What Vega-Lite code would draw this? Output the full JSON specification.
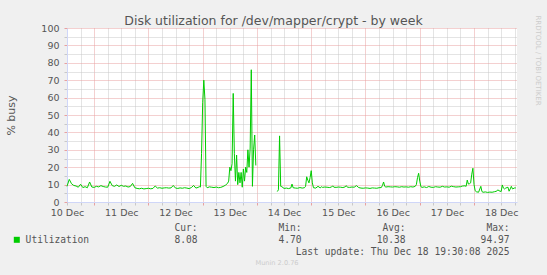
{
"$schema": "https://vega.github.io/schema/vega-lite/v6.json",
"width": 450, "height": 174,
"autosize": {"type": "none"},
"padding": {"left": 67, "top": 28, "right": 30, "bottom": 73},
"background": "#f0f0f0",
"title": {"text": "Munin 2.0.76", "orient": "bottom", "anchor": "middle", "frame": "group", "dx": -15, "offset": 9, "baseline": "alphabetic", "fontSize": 6.6, "font": "DejaVu Sans", "fontWeight": "normal", "color": "#cccccc"},
"config": {"view": {"fill": "#ffffff", "stroke": null}, "font": "DejaVu Sans"},
"data": {"values": [
{"t":"2025-12-10T12:00Z","v":9.0},{"t":"2025-12-10T13:00Z","v":13.0},{"t":"2025-12-10T14:00Z","v":10.5},{"t":"2025-12-10T15:00Z","v":9.5},{"t":"2025-12-10T16:00Z","v":9.2},{"t":"2025-12-10T17:00Z","v":8.5},{"t":"2025-12-10T18:00Z","v":10.2},{"t":"2025-12-10T19:00Z","v":8.3},{"t":"2025-12-10T20:00Z","v":8.8},{"t":"2025-12-10T21:00Z","v":8.2},{"t":"2025-12-10T22:00Z","v":11.5},{"t":"2025-12-10T23:00Z","v":8.6},
{"t":"2025-12-11T00:00Z","v":8.4},{"t":"2025-12-11T01:00Z","v":9.0},{"t":"2025-12-11T02:00Z","v":8.7},{"t":"2025-12-11T03:00Z","v":9.4},{"t":"2025-12-11T04:00Z","v":8.9},{"t":"2025-12-11T05:00Z","v":8.6},{"t":"2025-12-11T06:00Z","v":8.5},{"t":"2025-12-11T07:00Z","v":11.9},{"t":"2025-12-11T08:00Z","v":9.4},{"t":"2025-12-11T09:00Z","v":9.0},{"t":"2025-12-11T10:00Z","v":9.8},{"t":"2025-12-11T11:00Z","v":8.9},{"t":"2025-12-11T12:00Z","v":9.6},{"t":"2025-12-11T13:00Z","v":9.0},{"t":"2025-12-11T14:00Z","v":9.2},{"t":"2025-12-11T15:00Z","v":8.6},{"t":"2025-12-11T16:00Z","v":8.9},{"t":"2025-12-11T17:00Z","v":10.7},{"t":"2025-12-11T18:00Z","v":8.2},{"t":"2025-12-11T19:00Z","v":7.8},{"t":"2025-12-11T20:00Z","v":7.6},{"t":"2025-12-11T21:00Z","v":7.9},{"t":"2025-12-11T22:00Z","v":7.5},{"t":"2025-12-11T23:00Z","v":7.7},
{"t":"2025-12-12T00:00Z","v":7.9},{"t":"2025-12-12T01:00Z","v":7.6},{"t":"2025-12-12T02:00Z","v":7.8},{"t":"2025-12-12T03:00Z","v":9.2},{"t":"2025-12-12T04:00Z","v":8.0},{"t":"2025-12-12T05:00Z","v":8.2},{"t":"2025-12-12T06:00Z","v":7.9},{"t":"2025-12-12T07:00Z","v":8.1},{"t":"2025-12-12T08:00Z","v":8.2},{"t":"2025-12-12T09:00Z","v":8.0},{"t":"2025-12-12T10:00Z","v":8.1},{"t":"2025-12-12T11:00Z","v":9.5},{"t":"2025-12-12T12:00Z","v":8.0},{"t":"2025-12-12T13:00Z","v":7.8},{"t":"2025-12-12T14:00Z","v":8.1},{"t":"2025-12-12T15:00Z","v":7.9},{"t":"2025-12-12T16:00Z","v":8.2},{"t":"2025-12-12T17:00Z","v":8.0},{"t":"2025-12-12T18:00Z","v":7.7},{"t":"2025-12-12T19:00Z","v":8.3},{"t":"2025-12-12T20:00Z","v":9.5},{"t":"2025-12-12T21:00Z","v":8.0},{"t":"2025-12-12T22:00Z","v":8.4},{"t":"2025-12-12T22:30Z","v":8.8},{"t":"2025-12-12T23:00Z","v":8.6},{"t":"2025-12-12T23:30Z","v":28},
{"t":"2025-12-13T00:00Z","v":57},{"t":"2025-12-13T00:30Z","v":70},{"t":"2025-12-13T01:00Z","v":59},{"t":"2025-12-13T01:30Z","v":9},{"t":"2025-12-13T02:00Z","v":8.2},{"t":"2025-12-13T03:00Z","v":8.7},{"t":"2025-12-13T04:00Z","v":8.5},{"t":"2025-12-13T05:00Z","v":8.3},{"t":"2025-12-13T06:00Z","v":8.6},{"t":"2025-12-13T07:00Z","v":8.2},{"t":"2025-12-13T08:00Z","v":8.4},{"t":"2025-12-13T09:00Z","v":8.9},{"t":"2025-12-13T10:00Z","v":9.6},{"t":"2025-12-13T11:00Z","v":10.7},{"t":"2025-12-13T11:30Z","v":12},{"t":"2025-12-13T12:00Z","v":20},{"t":"2025-12-13T12:30Z","v":18},{"t":"2025-12-13T13:00Z","v":22},{"t":"2025-12-13T13:30Z","v":62.4},{"t":"2025-12-13T14:00Z","v":28},{"t":"2025-12-13T14:30Z","v":12},{"t":"2025-12-13T15:00Z","v":27},{"t":"2025-12-13T15:30Z","v":10},{"t":"2025-12-13T16:00Z","v":17},{"t":"2025-12-13T16:30Z","v":11},{"t":"2025-12-13T17:00Z","v":17},{"t":"2025-12-13T17:30Z","v":8.5},{"t":"2025-12-13T18:00Z","v":19},{"t":"2025-12-13T18:30Z","v":12},{"t":"2025-12-13T19:00Z","v":20},{"t":"2025-12-13T19:30Z","v":17},{"t":"2025-12-13T20:00Z","v":30},{"t":"2025-12-13T20:30Z","v":20},{"t":"2025-12-13T21:00Z","v":31},{"t":"2025-12-13T21:30Z","v":76},{"t":"2025-12-13T22:00Z","v":9},{"t":"2025-12-13T22:30Z","v":30},{"t":"2025-12-13T23:00Z","v":38.5},{"t":"2025-12-13T23:30Z","v":21},
{"t":"2025-12-14T09:00Z","v":6},{"t":"2025-12-14T09:30Z","v":7},{"t":"2025-12-14T10:00Z","v":38},{"t":"2025-12-14T10:30Z","v":9},{"t":"2025-12-14T11:00Z","v":8.8},{"t":"2025-12-14T12:00Z","v":7.8},{"t":"2025-12-14T13:00Z","v":8.0},{"t":"2025-12-14T14:00Z","v":7.7},{"t":"2025-12-14T15:00Z","v":8.1},{"t":"2025-12-14T15:30Z","v":10.3},{"t":"2025-12-14T16:00Z","v":8.2},{"t":"2025-12-14T17:00Z","v":8.0},{"t":"2025-12-14T18:00Z","v":7.9},{"t":"2025-12-14T19:00Z","v":8.3},{"t":"2025-12-14T20:00Z","v":8.0},{"t":"2025-12-14T21:00Z","v":8.2},{"t":"2025-12-14T21:30Z","v":9},{"t":"2025-12-14T22:00Z","v":14.5},{"t":"2025-12-14T22:30Z","v":12.5},{"t":"2025-12-14T23:00Z","v":11},{"t":"2025-12-14T23:30Z","v":14},
{"t":"2025-12-15T00:00Z","v":18},{"t":"2025-12-15T00:30Z","v":11},{"t":"2025-12-15T01:00Z","v":8.2},{"t":"2025-12-15T02:00Z","v":8.0},{"t":"2025-12-15T03:00Z","v":9.0},{"t":"2025-12-15T04:00Z","v":8.1},{"t":"2025-12-15T04:30Z","v":8.8},{"t":"2025-12-15T05:00Z","v":8.4},{"t":"2025-12-15T06:00Z","v":8.6},{"t":"2025-12-15T07:00Z","v":8.5},{"t":"2025-12-15T08:00Z","v":8.3},{"t":"2025-12-15T09:00Z","v":8.6},{"t":"2025-12-15T09:30Z","v":9.3},{"t":"2025-12-15T10:00Z","v":8.5},{"t":"2025-12-15T11:00Z","v":8.4},{"t":"2025-12-15T12:00Z","v":8.6},{"t":"2025-12-15T13:00Z","v":8.5},{"t":"2025-12-15T14:00Z","v":8.3},{"t":"2025-12-15T15:00Z","v":8.7},{"t":"2025-12-15T15:30Z","v":9.4},{"t":"2025-12-15T16:00Z","v":8.5},{"t":"2025-12-15T17:00Z","v":8.4},{"t":"2025-12-15T18:00Z","v":8.6},{"t":"2025-12-15T19:00Z","v":8.5},{"t":"2025-12-15T20:00Z","v":9.4},{"t":"2025-12-15T21:00Z","v":8.3},{"t":"2025-12-15T22:00Z","v":8.0},{"t":"2025-12-15T23:00Z","v":7.9},
{"t":"2025-12-16T00:00Z","v":8.1},{"t":"2025-12-16T01:00Z","v":8.0},{"t":"2025-12-16T02:00Z","v":7.8},{"t":"2025-12-16T03:00Z","v":8.1},{"t":"2025-12-16T04:00Z","v":8.0},{"t":"2025-12-16T05:00Z","v":7.9},{"t":"2025-12-16T06:00Z","v":8.2},{"t":"2025-12-16T07:00Z","v":8.3},{"t":"2025-12-16T07:30Z","v":9.5},{"t":"2025-12-16T08:00Z","v":11.5},{"t":"2025-12-16T08:30Z","v":9},{"t":"2025-12-16T09:00Z","v":8.6},{"t":"2025-12-16T10:00Z","v":8.8},{"t":"2025-12-16T11:00Z","v":8.7},{"t":"2025-12-16T12:00Z","v":8.6},{"t":"2025-12-16T13:00Z","v":8.8},{"t":"2025-12-16T14:00Z","v":8.7},{"t":"2025-12-16T15:00Z","v":8.5},{"t":"2025-12-16T16:00Z","v":8.8},{"t":"2025-12-16T17:00Z","v":8.6},{"t":"2025-12-16T18:00Z","v":8.7},{"t":"2025-12-16T19:00Z","v":8.5},{"t":"2025-12-16T20:00Z","v":8.8},{"t":"2025-12-16T21:00Z","v":8.6},{"t":"2025-12-16T22:00Z","v":9.0},{"t":"2025-12-16T22:30Z","v":10},{"t":"2025-12-16T23:00Z","v":14},{"t":"2025-12-16T23:30Z","v":16.5},
{"t":"2025-12-17T00:00Z","v":12},{"t":"2025-12-17T00:30Z","v":8.8},{"t":"2025-12-17T01:00Z","v":8.4},{"t":"2025-12-17T02:00Z","v":8.7},{"t":"2025-12-17T03:00Z","v":8.3},{"t":"2025-12-17T04:00Z","v":8.9},{"t":"2025-12-17T05:00Z","v":8.5},{"t":"2025-12-17T06:00Z","v":8.4},{"t":"2025-12-17T07:00Z","v":8.8},{"t":"2025-12-17T08:00Z","v":8.6},{"t":"2025-12-17T09:00Z","v":8.5},{"t":"2025-12-17T10:00Z","v":9.0},{"t":"2025-12-17T11:00Z","v":8.6},{"t":"2025-12-17T12:00Z","v":8.7},{"t":"2025-12-17T13:00Z","v":8.5},{"t":"2025-12-17T14:00Z","v":9.1},{"t":"2025-12-17T15:00Z","v":8.8},{"t":"2025-12-17T16:00Z","v":8.6},{"t":"2025-12-17T17:00Z","v":8.7},{"t":"2025-12-17T18:00Z","v":8.8},{"t":"2025-12-17T19:00Z","v":9.2},{"t":"2025-12-17T20:00Z","v":9.3},{"t":"2025-12-17T20:30Z","v":9.0},{"t":"2025-12-17T21:00Z","v":12.6},{"t":"2025-12-17T21:30Z","v":10.3},{"t":"2025-12-17T22:00Z","v":10.5},{"t":"2025-12-17T22:30Z","v":11},{"t":"2025-12-17T23:00Z","v":16},{"t":"2025-12-17T23:30Z","v":19.4},
{"t":"2025-12-18T00:00Z","v":10},{"t":"2025-12-18T00:30Z","v":6.5},{"t":"2025-12-18T01:00Z","v":5.9},{"t":"2025-12-18T02:00Z","v":5.6},{"t":"2025-12-18T03:00Z","v":9.0},{"t":"2025-12-18T03:30Z","v":6.0},{"t":"2025-12-18T04:00Z","v":5.6},{"t":"2025-12-18T05:00Z","v":5.8},{"t":"2025-12-18T06:00Z","v":5.5},{"t":"2025-12-18T07:00Z","v":5.7},{"t":"2025-12-18T08:00Z","v":5.6},{"t":"2025-12-18T09:00Z","v":5.9},{"t":"2025-12-18T10:00Z","v":6.2},{"t":"2025-12-18T10:30Z","v":7},{"t":"2025-12-18T11:00Z","v":6.5},{"t":"2025-12-18T12:00Z","v":6.0},{"t":"2025-12-18T12:30Z","v":9.8},{"t":"2025-12-18T13:00Z","v":8},{"t":"2025-12-18T13:30Z","v":7.5},{"t":"2025-12-18T14:00Z","v":8.0},{"t":"2025-12-18T15:00Z","v":8.5},{"t":"2025-12-18T15:30Z","v":6.2},{"t":"2025-12-18T16:00Z","v":7.5},{"t":"2025-12-18T16:30Z","v":9.0},{"t":"2025-12-18T17:00Z","v":7.5},{"t":"2025-12-18T18:00Z","v":8.1},{"t":"2025-12-18T18:30Z","v":8.08}
]},
"encoding": {
"color": {"datum": "Utilization", "type": "nominal", "scale": {"range": ["#00cc00"]},
 "legend": {"orient": "none", "legendX": -55, "legendY": 207, "title": null, "padding": 0,
  "symbolType": "square", "symbolSize": 36, "symbolStrokeWidth": 0,
  "labelFont": "DejaVu Sans Mono", "labelFontSize": 9.6, "labelColor": "#555555", "labelOffset": 4,
  "encode": {"symbols": {"update": {"fill": {"value": "#00cc00"}, "stroke": {"value": "#00cc00"}, "strokeWidth": {"value": 0}, "shape": {"value": "square"}}}}}}
},
"layer": [
{"transform": [{"filter": "time(datum.t) < 1765670400000"}],
 "mark": {"type": "line", "strokeWidth": 1},
 "encoding": {
 "x": {"field": "t", "type": "temporal",
  "scale": {"type": "utc", "domain": [1765368000000, 1766084400000]},
  "axis": {
   "values": [1765368000000,1765389600000,1765411200000,1765432800000,1765454400000,1765476000000,1765497600000,1765519200000,1765540800000,1765562400000,1765584000000,1765605600000,1765627200000,1765648800000,1765670400000,1765692000000,1765713600000,1765735200000,1765756800000,1765778400000,1765800000000,1765821600000,1765843200000,1765864800000,1765886400000,1765908000000,1765929600000,1765951200000,1765972800000,1765994400000,1766016000000,1766037600000,1766059200000,1766080800000],
   "labelExpr": "utchours(datum.value) == 12 ? utcFormat(datum.value, '%d Dec') : ''",
   "labelOverlap": false, "labelFlush": false, "labelBound": false,
   "labelFont": "DejaVu Sans", "labelFontSize": 9.5, "labelColor": "#555555", "labelPadding": 2,
   "tickSize": 3,
   "tickColor": {"condition": {"test": "utchours(datum.value) == 0", "value": "#e8a0a0"}, "value": "#c8c8c8"},
   "grid": true,
   "gridColor": {"condition": {"test": "utchours(datum.value) == 0", "value": "#e8a0a0"}, "value": "#c8c8c8"},
   "gridDash": [1, 1], "gridOpacity": 1,
   "domainColor": "#cfd6f8",
   "title": ["Cur:\u00a0\u00a0\u00a0\u00a0\u00a0\u00a0\u00a0\u00a0\u00a0\u00a0\u00a0\u00a0\u00a0\u00a0Min:\u00a0\u00a0\u00a0\u00a0\u00a0\u00a0\u00a0\u00a0\u00a0\u00a0\u00a0\u00a0\u00a0\u00a0Avg:\u00a0\u00a0\u00a0\u00a0\u00a0\u00a0\u00a0\u00a0\u00a0\u00a0\u00a0\u00a0\u00a0\u00a0Max:\u00a0\u00a0", "8.08\u00a0\u00a0\u00a0\u00a0\u00a0\u00a0\u00a0\u00a0\u00a0\u00a0\u00a0\u00a0\u00a0\u00a04.70\u00a0\u00a0\u00a0\u00a0\u00a0\u00a0\u00a0\u00a0\u00a0\u00a0\u00a0\u00a0\u00a010.38\u00a0\u00a0\u00a0\u00a0\u00a0\u00a0\u00a0\u00a0\u00a0\u00a0\u00a0\u00a0\u00a094.97", "Last update: Thu Dec 18 19:30:08 2025"],
   "titleFont": "DejaVu Sans Mono", "titleFontSize": 9.6, "titleFontWeight": "normal", "titleColor": "#555555",
   "titleAlign": "right", "titleAnchor": "end", "titleX": 442, "titleY": 28, "titleBaseline": "alphabetic", "titleLineHeight": 12
  }},
 "y": {"field": "v", "type": "quantitative",
  "scale": {"domain": [0, 100], "nice": false},
  "axis": {
   "values": [0,5,10,15,20,25,30,35,40,45,50,55,60,65,70,75,80,85,90,95,100],
   "labelExpr": "datum.value % 10 == 0 ? datum.label : ''",
   "labelFont": "DejaVu Sans", "labelFontSize": 9.5, "labelColor": "#555555", "labelPadding": 5,
   "tickSize": 3,
   "tickColor": {"condition": {"test": "datum.value % 10 == 0", "value": "#e8a0a0"}, "value": "#c8c8c8"},
   "grid": true,
   "gridColor": {"condition": {"test": "datum.value % 10 == 0", "value": "#e8a0a0"}, "value": "#c8c8c8"},
   "gridDash": [1, 1], "gridOpacity": 1,
   "domainColor": "#cfd6f8",
   "title": "% busy", "titleFont": "DejaVu Sans", "titleFontSize": 11, "titleFontWeight": "normal", "titleColor": "#555555",
   "titleX": -56, "titleY": 87, "titleAlign": "center", "titleBaseline": "middle", "titleAngle": -90
  }}
 }
},
{"transform": [{"filter": "time(datum.t) >= 1765670400000"}],
 "mark": {"type": "line", "strokeWidth": 1},
 "encoding": {
 "x": {"field": "t", "type": "temporal",
  "scale": {"type": "utc", "domain": [1765368000000, 1766084400000]},
  "axis": {"orient": "top", "labels": false, "ticks": false, "domain": false, "grid": false,
   "title": "Disk utilization for /dev/mapper/crypt - by week",
   "titleFont": "DejaVu Sans", "titleFontSize": 12.5, "titleFontWeight": "normal", "titleColor": "#555555",
   "titleX": 206, "titleY": -4, "titleAlign": "center", "titleBaseline": "alphabetic"}},
 "y": {"field": "v", "type": "quantitative",
  "scale": {"domain": [0, 100], "nice": false},
  "axis": {"orient": "right", "labels": false, "ticks": false, "domain": false, "grid": false,
   "title": "RRDTOOL / TOBI OETIKER",
   "titleFont": "DejaVu Sans", "titleFontSize": 7, "titleFontWeight": "normal", "titleColor": "#cccccc",
   "titleX": 20, "titleY": 32, "titleAlign": "center", "titleBaseline": "middle", "titleAngle": 90}}
 }
}
],
"resolve": {"axis": {"x": "independent", "y": "independent"}}
}
